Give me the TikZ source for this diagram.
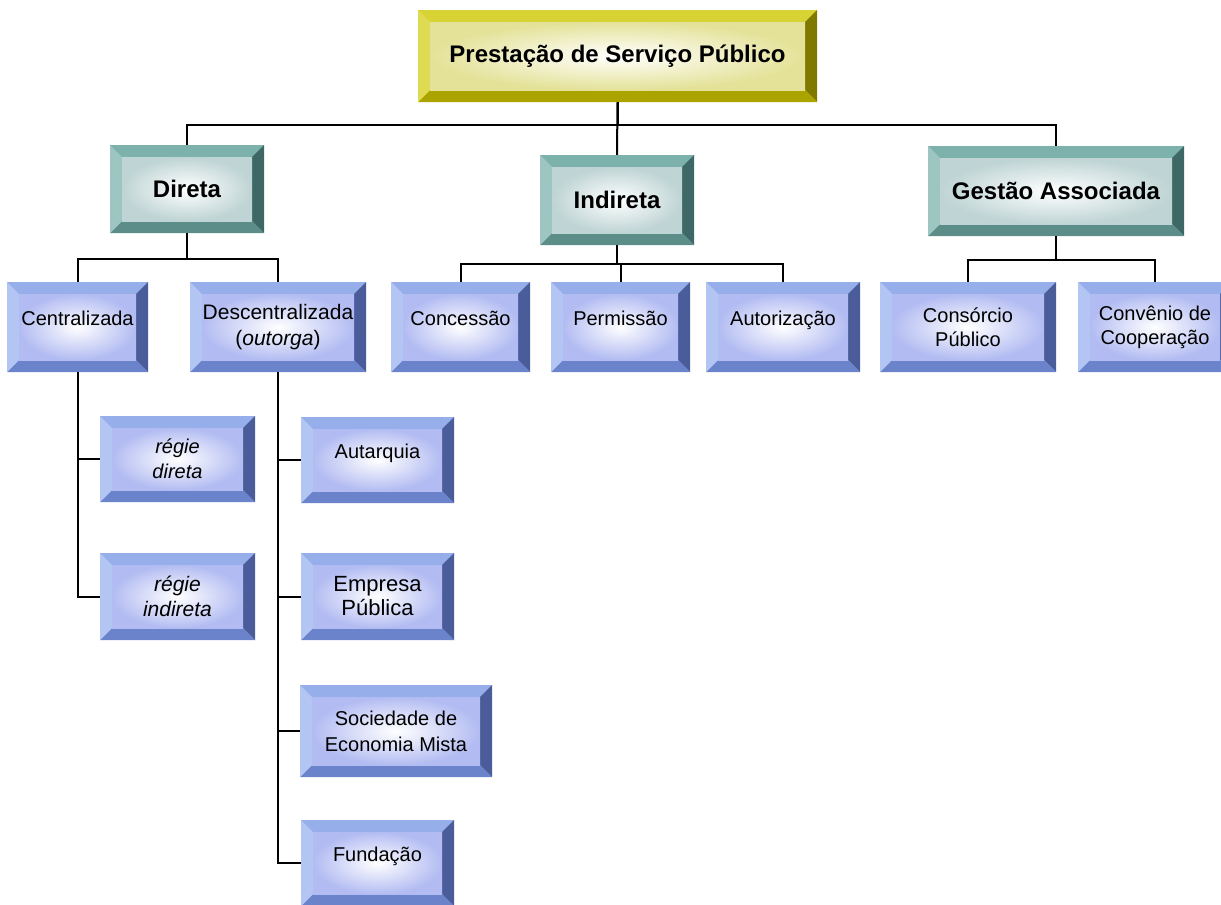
\documentclass[tikz,border=0pt]{standalone}
\usepackage{fontspec}
\setmainfont{Liberation Sans}
\usetikzlibrary{positioning}

% bevel palettes: top, left, right, bottom faces and rim of the inner face
\definecolor{oliveTop}{HTML}{D7D334}
\definecolor{oliveLeft}{HTML}{DEDB52}
\definecolor{oliveRight}{HTML}{807900}
\definecolor{oliveBot}{HTML}{AAA300}
\definecolor{oliveRim}{HTML}{E4E298}
\definecolor{tealTop}{HTML}{7DB2AC}
\definecolor{tealLeft}{HTML}{9DC6C2}
\definecolor{tealRight}{HTML}{3E6866}
\definecolor{tealBot}{HTML}{5D8D89}
\definecolor{tealRim}{HTML}{BFD4D4}
\definecolor{blueTop}{HTML}{96AFEB}
\definecolor{blueLeft}{HTML}{B3C5F3}
\definecolor{blueRight}{HTML}{4A5D9A}
\definecolor{blueBot}{HTML}{6B83CB}
\definecolor{blueRim}{HTML}{B3BCF2}

\begin{document}
\begin{tikzpicture}[
  x=1pt, y=-1pt,
  bevel/.style={fill=#1Top, inner sep=0pt, align=center, text=black,
    path picture={
      \path (path picture bounding box.north west) coordinate (o1)
            (path picture bounding box.north east) coordinate (o2)
            (path picture bounding box.south east) coordinate (o3)
            (path picture bounding box.south west) coordinate (o4)
            ([shift={(12pt,-12pt)}]o1) coordinate (i1)
            ([shift={(-12pt,-12pt)}]o2) coordinate (i2)
            ([shift={(-12pt,12pt)}]o3) coordinate (i3)
            ([shift={(12pt,12pt)}]o4) coordinate (i4);
      \fill[#1Top] (o1) -- (o2) -- (i2) -- (i1) -- cycle;
      \fill[#1Right] (o2) -- (o3) -- (i3) -- (i2) -- cycle;
      \fill[#1Bot] (o3) -- (o4) -- (i4) -- (i3) -- cycle;
      \fill[#1Left] (o4) -- (o1) -- (i1) -- (i4) -- cycle;
      \shade[inner color=white, outer color=#1Rim] (i1) rectangle (i3);
    }},
  rootbox/.style={bevel=olive, minimum width=399pt, minimum height=92pt,
    font=\fontsize{24}{28}\selectfont\bfseries},
  headbox/.style={bevel=teal, minimum width=154pt, minimum height=88pt,
    font=\fontsize{24}{28}\selectfont\bfseries},
  subbox/.style={bevel=blue, minimum width=153pt, minimum height=90pt,
    font=\fontsize{20}{24}\selectfont},
  oneline/.style={text height=14pt, text depth=18pt},
  link/.style={draw=black, line width=2pt}
]

\clip (0,0) rectangle (1221,905);

% top
\node[rootbox] (root) at (617.5,56) {Prestação de Serviço Público};

% first level
\node[headbox] (direta) at (187,189) {Direta};
\node[headbox, minimum height=90pt] (indireta) at (617,200) {Indireta};
\node[headbox, minimum width=256pt, minimum height=90pt] (gestao) at (1056,191) {Gestão Associada};

% second level
\node[subbox, oneline, minimum width=141pt] (central) at (77.5,327) {Centralizada};
\node[subbox, minimum width=176pt, font=\fontsize{21}{26}\selectfont] (descent) at (278,327) {Descentralizada\\(\textit{outorga})};
\node[subbox, oneline, minimum width=139pt] (concessao) at (460.5,327) {Concessão};
\node[subbox, oneline, minimum width=139pt] (permissao) at (620.5,327) {Permissão};
\node[subbox, oneline, minimum width=154pt] (autoriz) at (783,327) {Autorização};
\node[subbox, minimum width=176pt, font=\fontsize{20}{24}\selectfont] (consorcio) at (968,327) {Consórcio\\Público};
\node[subbox, minimum width=154pt, font=\fontsize{20}{24}\selectfont] (convenio) at (1155,327) {Convênio de\\Cooperação};

% centralizada leaves
\node[subbox, minimum width=155pt, minimum height=86pt, font=\fontsize{20}{25}\selectfont\itshape] (regiedir) at (177.5,459) {régie\\direta};
\node[subbox, minimum width=155pt, minimum height=87pt, font=\fontsize{21}{25}\selectfont\itshape] (regieind) at (177.5,596.5) {régie\\indireta};

% descentralizada leaves
\node[subbox, oneline, minimum height=86pt] (autarquia) at (377.5,460) {Autarquia};
\node[subbox, minimum height=87pt, font=\fontsize{22}{24}\selectfont] (empresa) at (377.5,596.5) {Empresa\\Pública};
\node[subbox, minimum width=192pt, minimum height=92pt, font=\fontsize{20}{26}\selectfont] (sociedade) at (396,731) {Sociedade de\\Economia Mista};
\node[subbox, oneline, minimum height=86pt] (fundacao) at (377.5,863) {Fundação};

% connectors
\draw[link] (root.south) -- ++(0,23) -| (direta.north);
\draw[link] (root.south) -- ++(0,23) -| (gestao.north);
\draw[link] (root.south) -- (indireta.north);

\draw[link] (direta.south) -- ++(0,26) -| (central.north);
\draw[link] (direta.south) -- ++(0,26) -| (descent.north);

\draw[link] (indireta.south) -- ++(0,19) -| (concessao.north);
\draw[link] (indireta.south) -- ++(0,19) -| (autoriz.north);
\draw[link] (indireta.south) -- ++(0,19) -| (permissao.north);

\draw[link] (gestao.south) -- ++(0,24) -| (consorcio.north);
\draw[link] (gestao.south) -- ++(0,24) -| (convenio.north);

\draw[link] (central.south) |- (regieind.west);
\draw[link] (central.south |- regiedir.west) -- (regiedir.west);

\draw[link] (descent.south) |- (fundacao.west);
\draw[link] (descent.south |- autarquia.west) -- (autarquia.west);
\draw[link] (descent.south |- empresa.west) -- (empresa.west);
\draw[link] (descent.south |- sociedade.west) -- (sociedade.west);

\end{tikzpicture}
\end{document}
